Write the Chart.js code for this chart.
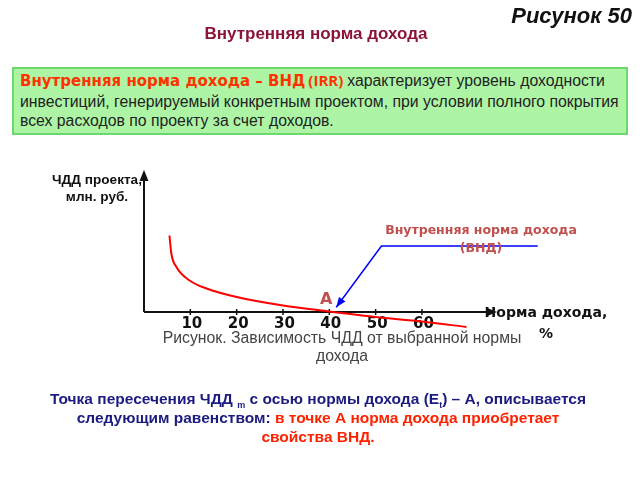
<!DOCTYPE html>
<html lang="ru">
<head>
<meta charset="utf-8">
<script src="https://cdn.jsdelivr.net/npm/chart.js@4/dist/chart.umd.min.js"></script>
<style>
  html, body { margin: 0; padding: 0; background: #fff; }
  #slide { position: relative; width: 640px; height: 480px; overflow: hidden; font-family: "Liberation Sans", Arial, sans-serif; }
  #c { position: absolute; left: 0; top: 0; }
  .t { position: absolute; white-space: nowrap; }
  #fig { right: 8px; top: 3px; font-size: 22px; font-weight: bold; font-style: italic; color: #111; }
  #title { left: 0; width: 632px; text-align: center; top: 24px; font-size: 17px; font-weight: bold; color: #8b1538; }
  #box { position: absolute; left: 12px; top: 67px; width: 612px; height: 64px; background: #adf5a5; border: 2px solid #6ad86a; }
  #boxtext { left: 20px; top: 71px; font-size: 15.8px; line-height: 19.5px; color: #222; }
  #boxtext .hl { font-family: "DejaVu Sans", sans-serif; font-weight: bold; font-size: 15px; color: #ff3300; }
  #boxtext .irr { font-family: "Open Sans", sans-serif; font-weight: bold; font-size: 15px; color: #ff3300; margin-left: 3px; margin-right: 4px; }
  #ylab { left: 48px; top: 171px; width: 98px; text-align: center; font-size: 13.6px; font-weight: bold; line-height: 17px; color: #111; }
  #xlab { left: 484px; top: 302px; width: 124px; text-align: center; font-family: "DejaVu Sans", sans-serif; font-size: 14px; font-weight: bold; line-height: 21px; color: #111; }
  #cap { left: 142px; width: 400px; top: 329px; text-align: center; font-size: 15.8px; line-height: 18px; color: #444; white-space: normal; }
  #callout { left: 384px; width: 194px; top: 221px; text-align: center; font-family: "DejaVu Sans", sans-serif; font-size: 12.5px; font-weight: bold; line-height: 18px; color: #c0504d; }
  #ptA { left: 320px; top: 289px; font-family: "DejaVu Sans", sans-serif; font-size: 16px; font-weight: bold; color: #c0504d; }
  #bottom { left: 0; width: 636px; top: 389px; text-align: center; font-size: 15.5px; font-weight: bold; line-height: 19px; color: #1c1c80; }
  #bottom .red { color: #ff2200; }
  #bottom sub { font-size: 9px; vertical-align: -4px; line-height: 0; }
</style>
</head>
<body>
<div id="slide">
  <canvas id="c" width="640" height="480"></canvas>
  <div class="t" id="fig">Рисунок 50</div>
  <div class="t" id="title">Внутренняя норма дохода</div>
  <div id="box"></div>
  <div class="t" id="boxtext"><span class="hl">Внутренняя норма дохода – ВНД</span><span class="irr">(IRR)</span>характеризует уровень доходности<br>инвестиций, генерируемый конкретным проектом, при условии полного покрытия<br>всех расходов по проекту за счет доходов.</div>
  <div class="t" id="ylab">ЧДД проекта,<br>млн. руб.</div>
  <div class="t" id="callout">Внутренняя норма дохода<br>(ВНД)</div>
  <div class="t" id="ptA">А</div>
  <div class="t" id="xlab">Норма дохода,<br>%</div>
  <div class="t" id="cap">Рисунок. Зависимость ЧДД от выбранной нормы дохода</div>
  <div class="t" id="bottom">Точка пересечения ЧДД <sub>m</sub> с осью нормы дохода (E<sub>t</sub>) – А, описывается<br>следующим равенством: <span class="red">в точке А норма дохода приобретает<br>свойства ВНД.</span></div>
</div>
<script>
// NPV curve: rate (%) vs NPV (arbitrary units)
const rates = [5.5, 5.9, 7, 9.85, 13.5, 20, 30, 40, 50, 60, 69.6];
const npv   = [15.3, 11.7, 9.0, 6.3, 4.7, 3.0, 1.3, 0.1, -1.0, -1.9, -3.0];

// rate-axis tick labels
const xTicks = [10, 20, 30, 40, 50, 60];

// blue callout path pointing at the IRR point (A)
const calloutX = [85, 51.25, 41.5];
const calloutY = [13.2, 13.2, 0.94];

const X_MAX = 76.2, Y_MIN = -3.6, Y_MAX = 28.4;

function arrowHead(ctx, x0, y0, x1, y1, len, half) {
  const a = Math.atan2(y1 - y0, x1 - x0);
  ctx.beginPath();
  ctx.moveTo(x1, y1);
  ctx.lineTo(x1 - len * Math.cos(a) + half * Math.sin(a), y1 - len * Math.sin(a) - half * Math.cos(a));
  ctx.lineTo(x1 - len * Math.cos(a) - half * Math.sin(a), y1 - len * Math.sin(a) + half * Math.cos(a));
  ctx.closePath();
  ctx.fill();
}

// axes with arrows and tick marks, drawn through the chart's scales
const axesPlugin = {
  id: 'axesPlugin',
  beforeDatasetsDraw(chart) {
    const { ctx } = chart;
    const xs = chart.scales.x, ys = chart.scales.y;
    const x0 = xs.getPixelForValue(0), y0 = ys.getPixelForValue(0);
    const xEnd = xs.getPixelForValue(X_MAX), yTop = ys.getPixelForValue(Y_MAX);
    ctx.save();
    ctx.strokeStyle = '#111';
    ctx.fillStyle = '#111';
    ctx.lineWidth = 2;
    ctx.beginPath();
    ctx.moveTo(x0, y0); ctx.lineTo(x0, yTop + 8);
    ctx.moveTo(x0, y0); ctx.lineTo(xEnd - 8, y0);
    ctx.stroke();
    arrowHead(ctx, x0, y0, x0, yTop, 11, 4.5);
    arrowHead(ctx, x0, y0, xEnd, y0, 11, 4.5);
    ctx.lineWidth = 1.5;
    ctx.font = 'bold 15px "DejaVu Sans", sans-serif';
    ctx.textAlign = 'center';
    ctx.textBaseline = 'middle';
    xTicks.forEach(v => {
      const px = xs.getPixelForValue(v);
      ctx.beginPath();
      ctx.moveTo(px, y0 - 3); ctx.lineTo(px, y0 + 3);
      ctx.stroke();
      ctx.fillText(String(v), px + 1.5, y0 + 12);
    });
    ctx.restore();
  },
  afterDatasetsDraw(chart) {
    const meta = chart.getDatasetMeta(1);
    const pts = meta.data;
    const a = pts[pts.length - 2], b = pts[pts.length - 1];
    const { ctx } = chart;
    ctx.save();
    ctx.fillStyle = '#0000ff';
    arrowHead(ctx, a.x, a.y, b.x, b.y, 10, 4);
    ctx.restore();
  }
};

new Chart(document.getElementById('c'), {
  type: 'line',
  data: {
    datasets: [
      {
        label: 'ЧДД',
        data: rates.map((r, i) => ({ x: r, y: npv[i] })),
        borderColor: '#ff0000',
        borderWidth: 2,
        pointRadius: 0,
        cubicInterpolationMode: 'monotone',
        clip: false,
      },
      {
        label: 'ВНД',
        data: calloutX.map((x, i) => ({ x, y: calloutY[i] })),
        borderColor: '#0000ff',
        borderWidth: 1.5,
        pointRadius: 0,
        tension: 0,
        clip: false,
      },
    ],
  },
  options: {
    responsive: false,
    animation: false,
    layout: { padding: { left: 144, right: 143, top: 170, bottom: 150 } },
    plugins: { legend: { display: false }, tooltip: { enabled: false } },
    scales: {
      x: { type: 'linear', min: 0, max: X_MAX, display: false },
      y: { type: 'linear', min: Y_MIN, max: Y_MAX, display: false },
    },
  },
  plugins: [axesPlugin],
});
</script>
</body>
</html>
